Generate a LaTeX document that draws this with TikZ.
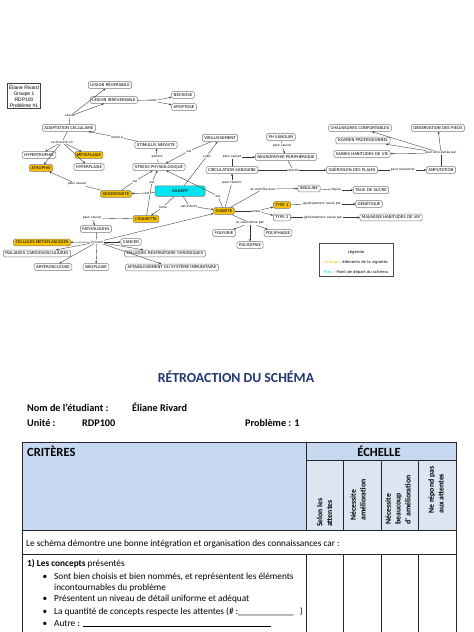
\documentclass[tikz,border=0pt]{standalone}
\usepackage{fontspec}
\setmainfont{Carlito}
\newfontfamily\cmapfamily{DejaVu Sans}
\newfontfamily\infofamily{Liberation Sans}
\usetikzlibrary{arrows.meta}
\definecolor{vignette}{RGB}{245,192,0}
\definecolor{depart}{RGB}{0,228,240}
\definecolor{titrebleu}{RGB}{31,56,110}
\definecolor{entete}{RGB}{198,217,241}
\definecolor{souscol}{RGB}{220,230,242}
\definecolor{bordgris}{RGB}{120,120,120}
\def\cmapfont{\cmapfamily\fontsize{3.9}{4.4}\selectfont}
\def\liaisonfont{\cmapfamily\fontsize{3.1}{3.7}\selectfont}
\def\corps{\fontsize{9.3}{11}\selectfont}
\def\lien(#1)(#2)(#3){\draw[trait] (#1) -- (#2); \draw[fleche] (#2) -- (#3);}
\tikzset{
	concept/.style={draw=bordgris, rounded corners=1.5pt, fill=white, font=\cmapfont, inner xsep=2pt, inner ysep=1.9pt, text height=2.9pt, text depth=0.2pt, line width=0.5pt},
	vigno/.style={concept, fill=vignette},
	liaison/.style={font=\liaisonfont, inner sep=0.6pt, fill=white},
	trait/.style={line width=0.35pt, black!80},
	fleche/.style={trait, -{Stealth[length=2.2pt,width=2pt]}},
	grille/.style={line width=0.9pt, black!85},
	vertical/.style={rotate=90, anchor=west, align=left, inner sep=0pt, font=\bfseries\fontsize{7.8}{9.8}\selectfont}
}

\begin{document}
\begin{tikzpicture}[x=1pt,y=-1pt]
				\useasboundingbox[fill=white] (0,0) rectangle (474,632);

				\node[draw=black!75, line width=0.5pt, align=center, inner sep=1.5pt, font=\infofamily\fontsize{5}{6}\selectfont] (info) at (24,96) {Éliane Rivard\\Groupe 1\\RDP100\\Problème \#1};

				\node[concept] (lesrev) at (110,85) {LÉSION RÉVERSIBLE};
				\node[concept] (lesirr) at (114,100) {LÉSION IRRÉVERSIBLE};
				\node[liaison] (lcause) at (152,101) {cause};
				\node[concept] (necrose) at (183,95) {NÉCROSE};
				\node[concept] (apoptose) at (184,107) {APOPTOSE};
				\node[liaison] (lcauser) at (70,116) {causer};
				\node[concept] (adapt) at (69,128) {ADAPTATION CELLULAIRE};
				\node[liaison] (lmene) at (117,137) {mène à};
				\node[concept] (stimulus) at (156,145) {STIMULUS NÉFASTE};
				\node[liaison] (ldivise) at (62,142) {se divisent en};
				\node[concept] (hypertro) at (39,155) {HYPERTROPHIE};
				\node[vigno] (metapl) at (89,155) {MÉTAPLASIE};
				\node[concept] (hyperpl) at (89,167) {HYPERPLASIE};
				\node[vigno] (atrophie) at (41,168) {ATROPHIE};
				\node[liaison] (lgenere) at (157,157) {génère};
				\node[concept] (stress) at (159,167) {STRESS PHYSIOLOGIQUE};

				\node[concept] (vieil) at (220,138) {VIEILLISSEMENT};
				\node[liaison] (lestv) at (189,151) {est};
				\node[liaison] (lsubit) at (207,156) {subit};
				\node[concept] (phs) at (281,137) {PH SANGUIN};
				\node[liaison] (lpcph) at (282,145.5) {peut causer};
				\node[concept] (neuro) at (286,157) {NEUROPATHIE PÉRIPHÉRIQUE};
				\node[liaison] (lpccirc) at (232,157) {peut causer};
				\node[concept] (circ) at (232,170) {CIRCULATION SANGUINE};
				\node[liaison] (lralent) at (293,170) {ralentit};
				\node[concept] (guer) at (352,170) {GUÉRISSON DES PLAIES};
				\node[liaison] (lnecess) at (403,170) {peut nécessiter};
				\node[concept] (amput) at (441,170) {AMPUTATION};
				\node[liaison] (levitee) at (441,153) {peut être évitée par};
				\node[concept] (chauss) at (360,128) {CHAUSSURES CONFORTABLES};
				\node[concept] (obs) at (438,128) {OBSERVATION DES PIEDS};
				\node[concept] (examen) at (363,140.5) {EXAMEN PROFESSIONNEL};
				\node[concept] (saines) at (362,154) {SAINES HABITUDES DE VIE};

				\node[concept, fill=depart, minimum width=50pt, minimum height=10.5pt] (gilbert) at (180,191) {GILBERT};
				\node[liaison] (lpralent) at (232,182.5) {peut ralentir};
				\node[liaison] (lestd) at (218,196) {est};
				\node[liaison] (lestsed) at (147,193) {est};
				\node[vigno] (sedent) at (116,194) {SÉDENTARITÉ};
				\node[liaison] (lestss) at (135,181) {est};
				\node[liaison] (lestcig) at (152,182) {est};
				\node[liaison] (lfume) at (163,207) {fume};
				\node[liaison] (latteint) at (189,206) {est atteint};
				\node[vigno] (cig) at (146,219) {CIGARETTE};
				\node[vigno] (diabete) at (224,211) {DIABÈTE};
				\node[liaison] (lcontrole) at (263,189) {se contrôle avec};
				\node[concept] (insuline) at (309,188.5) {INSULINE};
				\node[liaison] (lregule) at (336,190) {régule};
				\node[concept] (taux) at (371,190) {TAUX DE SUCRE};
				\node[liaison] (lexiste) at (256,211) {existe};
				\node[vigno] (type1) at (282,205) {TYPE 1};
				\node[concept] (type2) at (282,217.5) {TYPE 2};
				\node[liaison] (lgen1) at (322,204) {généralement causé par};
				\node[concept] (genet) at (369,204) {GÉNÉTIQUE};
				\node[liaison] (lgen2) at (323,217.5) {généralement causé par};
				\node[concept] (mauv) at (391,217.5) {MAUVAISE HABITUDES DE VIE};
				\node[liaison] (lcaract) at (250,223) {se caractérise par};
				\node[concept] (polyurie) at (224,233) {POLYURIE};
				\node[concept] (polydip) at (250,245) {POLYDIPSIE};
				\node[concept] (polyph) at (278,233) {POLYPHAGIE};

				\node[liaison] (lpcsed) at (77,184) {peut causer};
				\node[liaison] (lpccig) at (92,218) {peut causer};
				\node[concept] (patho) at (96,229) {PATHOLOGIES};
				\node[liaison] (linclu) at (97,242) {incluent};
				\node[vigno] (cellmet) at (42,242.5) {CELLULES MÉTAPLASIQUES};
				\node[concept] (cancer) at (131,242) {CANCER};
				\node[concept] (cardio) at (37,253.5) {MALADIES CARDIOVASCULAIRES};
				\node[concept] (resp) at (165,253.5) {MALADIES RESPIRATOIRE CHRONIQUES};
				\node[concept] (artero) at (53,267) {ARTÉROSCLÉOSE};
				\node[concept] (neopl) at (96,267) {NÉOPLASIE};
				\node[concept] (affaib) at (172,267.5) {AFFAIBLISSEMENT DU SYSTÈME IMMUNITAIRE};

				\lien(adapt)(lcauser)(lesrev)
				\draw[fleche] (lcauser) -- (lesirr);
				\lien(lesirr)(lcause)(necrose)
				\draw[fleche] (lcause) -- (apoptose);
				\lien(stimulus)(lmene)(adapt)
				\lien(adapt)(ldivise)(metapl)
				\draw[fleche] (ldivise) -- (hypertro);
				\draw[fleche] (ldivise) -- (hyperpl);
				\draw[fleche] (ldivise) -- (atrophie);
				\lien(stress)(lgenere)(stimulus)
				\lien(vieil)(lestv)(stress)
				\lien(gilbert)(lsubit)(vieil)
				\lien(phs)(lpcph)(neuro)
				\lien(circ)(lpccirc)(neuro)
				\lien(circ)(lralent)(guer)
				\draw[trait] (neuro) -- (lralent);
				\lien(guer)(lnecess)(amput)
				\lien(amput)(levitee)(obs)
				\draw[fleche] (levitee) -- (saines);
				\draw[fleche] (levitee) -- (examen);
				\draw[fleche] (levitee) -- (chauss);
				\lien(diabete)(lpralent)(circ)
				\lien(diabete)(lestd)(stress)
				\lien(gilbert)(lestsed)(sedent)
				\lien(sedent)(lestss)(stress)
				\lien(cig)(lestcig)(stress)
				\lien(gilbert)(lfume)(cig)
				\lien(gilbert)(latteint)(diabete)
				\lien(diabete)(lcontrole)(insuline)
				\lien(insuline)(lregule)(taux)
				\lien(diabete)(lexiste)(type1)
				\draw[fleche] (lexiste) -- (type2);
				\lien(type1)(lgen1)(genet)
				\lien(type2)(lgen2)(mauv)
				\lien(diabete)(lcaract)(polydip)
				\draw[fleche] (lcaract) -- (polyurie);
				\draw[fleche] (lcaract) -- (polyph);
				\lien(sedent)(lpcsed)(atrophie)
				\lien(cig)(lpccig)(patho)
				\lien(patho)(linclu)(cellmet)
				\draw[fleche] (linclu) -- (cancer);
				\draw[fleche] (linclu) -- (cardio);
				\draw[fleche] (linclu) -- (resp);
				\draw[fleche] (linclu) -- (artero);
				\draw[fleche] (linclu) -- (neopl);
				\draw[fleche] (linclu) -- (affaib);
				\draw[fleche] (linclu) -- (diabete);

				\draw[draw=black!70, line width=0.7pt] (319,243) rectangle (393,276);
				\node[font=\cmapfamily\fontsize{3.8}{4.4}\selectfont] (legende) at (356,252) {Légende};
				\node[font=\cmapfamily\fontsize{3.8}{4.4}\selectfont] (legorange) at (356,262) {\textcolor{vignette}{Orange} : éléments de la vignette};
				\node[font=\cmapfamily\fontsize{3.8}{4.4}\selectfont] (legbleu) at (356,272) {\textcolor{depart}{Bleu} : Point de départ du schéma};

				\node[font=\bfseries\fontsize{13.8}{15}\selectfont, text=titrebleu] (titre) at (236,377) {RÉTROACTION DU SCHÉMA};
				\node[anchor=base west, font=\bfseries\fontsize{10.2}{12}\selectfont, inner sep=0pt] (nom) at (27,411.5) {Nom de l’étudiant :};
				\node[anchor=base west, font=\bfseries\fontsize{10.2}{12}\selectfont, inner sep=0pt] (eleve) at (132,411.5) {Éliane Rivard};
				\node[anchor=base west, font=\bfseries\fontsize{10.2}{12}\selectfont, inner sep=0pt] (unite) at (27,426) {Unité :};
				\node[anchor=base west, font=\bfseries\fontsize{10.2}{12}\selectfont, inner sep=0pt] (rdp) at (82,426) {RDP100};
				\node[anchor=base west, font=\bfseries\fontsize{10.2}{12}\selectfont, inner sep=0pt] (probleme) at (245,426) {Problème : 1};

				\fill[entete] (22,442) rectangle (456,530);
				\fill[souscol] (306,460) rectangle (456,530);
				\draw[grille] (22,632) -- (22,442) -- (456,442) -- (456,632);
				\draw[grille] (306,442) -- (306,530);
				\draw[grille] (306,460) -- (456,460);
				\draw[grille] (22,530) -- (456,530);
				\draw[grille] (22,554) -- (456,554);
				\foreach \x in {343,381,418} {
					\draw[grille] (\x,460) -- (\x,530);
				}
				\foreach \x in {306,343,381,418} {
					\draw[grille] (\x,554) -- (\x,632);
				}
				\node[anchor=base west, font=\bfseries\fontsize{12.5}{14}\selectfont, inner sep=0pt] (criteres) at (27,456) {CRITÈRES};
				\node[anchor=base, font=\bfseries\fontsize{12.5}{14}\selectfont, inner sep=0pt] (echelle) at (379,456) {ÉCHELLE};
				\node[vertical] (selon) at (324.5,527) {Selon les\\attentes};
				\node[vertical] (amelio) at (358,521) {Nécessite\\amélioration};
				\node[vertical] (beaucoup) at (398,525) {Nécessite\\beaucoup\\d’ amélioration};
				\node[vertical] (nerepond) at (436,514) {Ne répond pas\\aux attentes};

				\node[anchor=base west, font=\corps, inner sep=0pt] (intro) at (26,546.5) {Le schéma démontre une bonne intégration et organisation des connaissances car :};
				\node[anchor=base west, font=\corps, inner sep=0pt] (concepts) at (27,566.5) {\textbf{1) Les concepts} présentés};
				\foreach \y/\t in {579/{Sont bien choisis et bien nommés, et représentent les éléments}, 601.5/{Présentent un niveau de détail uniforme et adéquat}, 614.5/{La quantité de concepts respecte les attentes (\# :\_\_\_\_\_\_\_\_\_\_\_\_\ \ \ )}, 626/{Autre : \rule{188pt}{0.4pt}}} {
					\node[anchor=base, font=\corps, inner sep=0pt] at (45,\y) {\textbullet};
					\node[anchor=base west, font=\corps, inner sep=0pt] at (54,\y) {\t};
				}
				\node[anchor=base west, font=\corps, inner sep=0pt] (incont) at (54,590.5) {incontournables du problème};
			\end{tikzpicture}
\end{document}
